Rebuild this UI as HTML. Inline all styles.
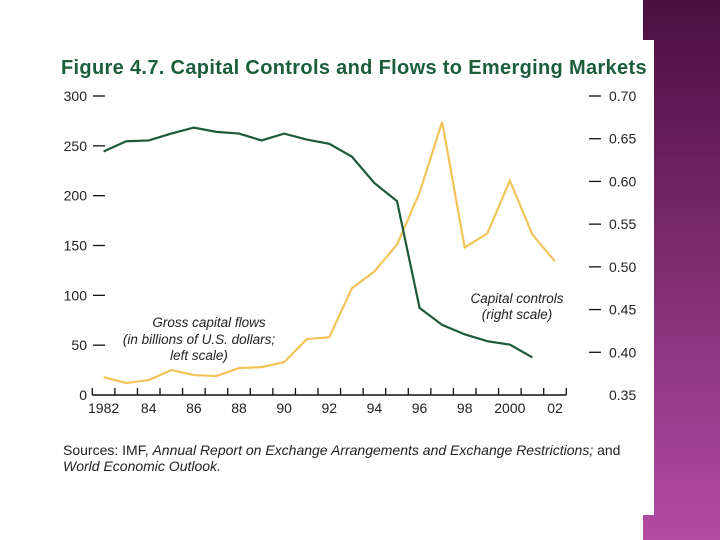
<!DOCTYPE html>
<html><head><meta charset="utf-8"><style>
body{margin:0;width:720px;height:540px;overflow:hidden;background:#fff;font-family:"Liberation Sans",sans-serif}
#bg{position:absolute;left:643px;top:0;width:77px;height:540px;background:linear-gradient(#4a0f3f,#7a2a6c 45%,#b24ba2)}
#panel{position:absolute;left:0;top:40px;width:654px;height:475px;background:#fff}
svg{position:absolute;left:0;top:0}
</style></head><body>
<div id="bg"></div>
<div id="panel"></div>
<svg width="720" height="540" id="chart" font-family="Liberation Sans, sans-serif">
<text x="61" y="74" font-size="20" font-weight="bold" letter-spacing="0.33" fill="#1a5e3a">Figure 4.7.  Capital Controls and Flows to Emerging Markets</text>
<g id="axes"></g>
<text font-size="13.5" font-style="italic" fill="#222" text-anchor="middle"><tspan x="209" y="327">Gross capital flows</tspan><tspan x="199" y="344">(in billions of U.S. dollars;</tspan><tspan x="199" y="360">left scale)</tspan></text>
<text font-size="13.5" font-style="italic" fill="#222" text-anchor="middle"><tspan x="517" y="303">Capital controls</tspan><tspan x="517" y="319">(right scale)</tspan></text>
<text font-size="14" fill="#222"><tspan x="63" y="455">Sources: IMF, </tspan><tspan font-style="italic">Annual Report on Exchange Arrangements and Exchange Restrictions;</tspan><tspan> and</tspan><tspan x="63" y="471" font-style="italic">World Economic Outlook.</tspan></text>
</svg>
<script>
const years=[1982,1983,1984,1985,1986,1987,1988,1989,1990,1991,1992,1993,1994,1995,1996,1997,1998,1999,2000,2001,2002];
const flows=[18,12,15,25,20,19,27,28,33,56,58,107,124,151,203,274,148,162,215,161,134];
const controls=[0.635,0.647,0.648,0.656,0.663,0.658,0.656,0.648,0.656,0.649,0.644,0.629,0.598,0.577,0.452,0.432,0.421,0.413,0.409,0.394];
const leftTicks=[0,50,100,150,200,250,300];
const rightTicks=["0.35","0.40","0.45","0.50","0.55","0.60","0.65","0.70"];
const xLabels={1982:"1982",1984:"84",1986:"86",1988:"88",1990:"90",1992:"92",1994:"94",1996:"96",1998:"98",2000:"2000",2002:"02"};
const X0=92.3,XW=22.57,Y0=395,YH=299;
const x=y=>X0+(y-1982+0.5)*XW;
const yl=v=>Y0-v/300*YH;
const yr=v=>Y0-(v-0.35)/0.35*YH;
const NS="http://www.w3.org/2000/svg";
const g=document.getElementById('axes');
function mk(t,a,txt){const e=document.createElementNS(NS,t);for(const k in a)e.setAttribute(k,a[k]);if(txt)e.textContent=txt;g.appendChild(e);return e;}
let e=mk('line',{x1:X0,x2:X0+21*XW,y1:Y0,y2:Y0,stroke:'#111','stroke-width':1.5});


for(let i=0;i<=21;i++){e=mk('line',{x1:X0+i*XW,x2:X0+i*XW,y1:Y0,y2:Y0-7,stroke:'#111','stroke-width':1.3});

}
years.forEach(yv=>{if(xLabels[yv]){e=mk('text',{x:x(yv),y:413,'font-size':14,'text-anchor':'middle',fill:'#222'},xLabels[yv]);

}});
leftTicks.forEach(v=>{const yy=yl(v);
e=mk('text',{x:87,y:yy+5,'font-size':14,'text-anchor':'end',fill:'#222'},String(v));


if(v>0){e=mk('line',{x1:93,x2:105,y1:yy,y2:yy,stroke:'#111','stroke-width':1.3});

}});
rightTicks.forEach(s=>{const yy=yr(parseFloat(s));
e=mk('text',{x:609,y:yy+5,'font-size':14,fill:'#222'},s);


if(s!=="0.35"){e=mk('line',{x1:589,x2:601,y1:yy,y2:yy,stroke:'#111','stroke-width':1.3});

}});
e=mk('polyline',{points:flows.map((v,i)=>x(years[i])+','+yl(v)).join(' '),fill:'none',stroke:'#f2c45a','stroke-width':2.2});


e=mk('polyline',{points:controls.map((v,i)=>x(years[i])+','+yr(v)).join(' '),fill:'none',stroke:'#1d5a3a','stroke-width':2.2});


</script>
</body></html>
